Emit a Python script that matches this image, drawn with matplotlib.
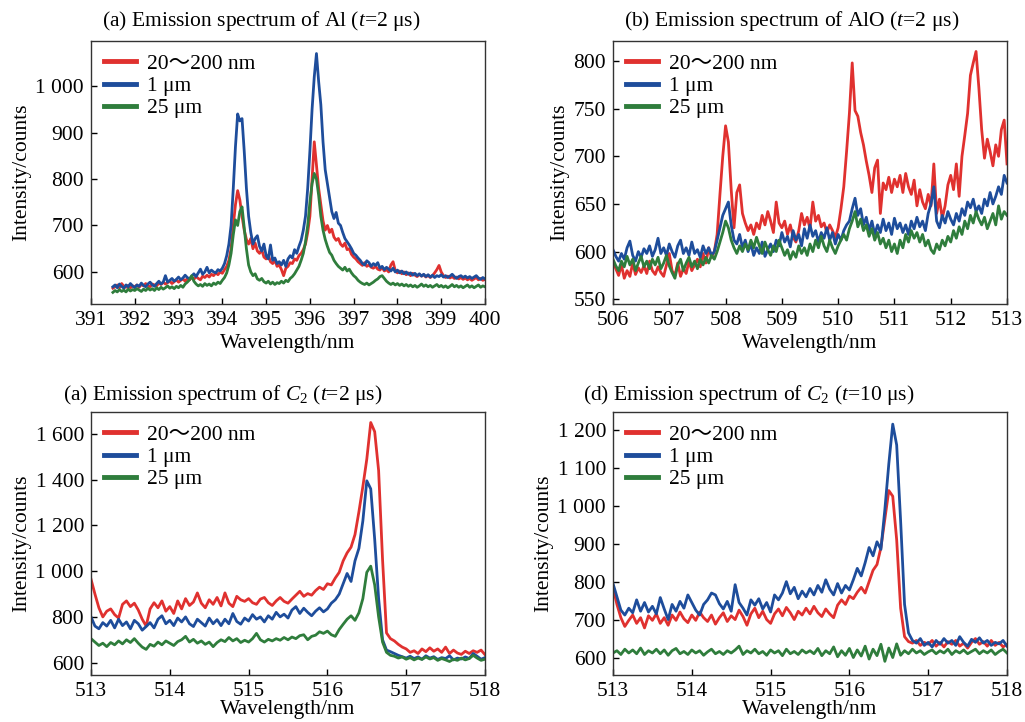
import matplotlib
matplotlib.use("Agg")
import matplotlib.pyplot as plt
import numpy as np
from matplotlib.ticker import FuncFormatter, MultipleLocator

plt.rcParams['font.family'] = ['Liberation Serif', 'Noto Sans CJK SC']
plt.rcParams['mathtext.fontset'] = 'custom'
plt.rcParams['mathtext.rm'] = 'Liberation Serif'
plt.rcParams['mathtext.it'] = 'Liberation Serif:italic'
FS = 15.5
plt.rcParams['font.size'] = FS

labels = ['20～200 nm', '1 μm', '25 μm']
colors = ['#E0312F', '#1E4D9B', '#2F7D3C']

# (a) Al, 391.5-400 nm, step 0.05
al_red = [565, 568, 572, 566, 575, 569, 567, 571, 566, 570,
          568, 572, 567, 573, 570, 575, 571, 568, 574, 572,
          570, 576, 573, 578, 574, 577, 580, 575, 579, 583,
          578, 582, 585, 580, 586, 583, 588, 584, 590, 586,
          583, 591, 588, 593, 589, 595, 592, 598, 594, 600,
          597, 605, 612, 625, 650, 700, 745, 775, 755, 720,
          690, 670, 660, 672, 650, 662, 645, 640, 648, 632,
          628, 636, 622, 618, 625, 612, 615, 605, 592, 608,
          612, 620, 618, 628, 625, 635, 640, 648, 660, 685,
          720, 800, 880, 830, 780, 745, 710, 690, 700, 685,
          692, 675, 668, 672, 660, 655, 662, 648, 650, 638,
          632, 628, 622, 618, 614, 620, 612, 615, 610, 608,
          612, 606, 604, 610, 602, 605, 600, 615, 622, 603,
          598, 602, 596, 600, 594, 598, 592, 597, 593, 590,
          595, 591, 594, 589, 593, 588, 592, 598, 605, 614,
          600, 592, 588, 591, 587, 590, 586, 589, 585, 588,
          584, 587, 583, 586, 582, 585, 588, 583, 586, 582,
          584]
al_blue = [568, 572, 566, 574, 569, 565, 572, 568, 575, 570,
           566, 572, 569, 576, 571, 568, 574, 578, 572, 569,
           575, 580, 574, 578, 592, 578, 582, 586, 580, 584,
           589, 583, 587, 593, 588, 585, 591, 596, 590, 598,
           606, 595, 600, 610, 598, 604, 600, 598, 605, 602,
           608, 618, 635, 660, 700, 780, 870, 940, 925, 930,
           860, 780, 720, 685, 660, 672, 678, 655, 645, 660,
           635, 628, 658, 625, 630, 618, 622, 615, 625, 612,
           628, 635, 630, 648, 640, 655, 668, 690, 720, 780,
           860, 950, 1020, 1070, 1010, 960, 880, 820, 790, 760,
           730, 715, 728, 705, 700, 685, 672, 665, 658, 650,
           640, 636, 630, 625, 618, 615, 624, 620, 612, 618,
           614, 620, 608, 612, 605, 610, 606, 602, 608, 600,
           604, 598, 602, 596, 600, 595, 598, 593, 597, 592,
           596, 591, 595, 590, 594, 589, 593, 588, 592, 590,
           594, 589, 592, 588, 591, 595, 590, 586, 590, 592,
           588, 591, 587, 590, 586, 589, 592, 587, 584, 588,
           585]
al_green = [556, 560, 557, 562, 558, 561, 557, 563, 559, 562,
            560, 564, 561, 558, 563, 560, 565, 561, 564, 560,
            566, 562, 567, 563, 566, 570, 565, 568, 564, 569,
            566, 571, 567, 574, 578, 583, 592, 580, 574, 570,
            573, 569, 575, 571, 574, 570, 576, 573, 578, 575,
            582, 588, 598, 615, 640, 680, 712, 700, 730, 740,
            695, 650, 615, 600, 592, 596, 585, 582, 586, 579,
            576, 580, 574, 578, 573, 577, 575, 580, 576, 582,
            579, 586, 590, 596, 604, 612, 625, 640, 665, 700,
            750, 790, 812, 800, 765, 720, 690, 670, 655, 642,
            636, 625, 618, 612, 608, 604, 610, 602, 606, 598,
            592, 588, 582, 578, 575, 573, 576, 572, 575, 578,
            582, 585, 590, 592, 586, 580, 576, 573, 576, 572,
            575, 571, 574, 570, 573, 569, 572, 568, 571, 567,
            570, 574, 569, 572, 568, 571, 567, 570, 573, 568,
            571, 567, 570, 566, 569, 573, 568, 571, 567, 570,
            566, 569, 572, 567, 570, 566, 569, 572, 567, 570,
            568]

# (b) AlO, 506-513 nm, step 0.05
alo_red = [590, 582, 575, 586, 572, 580, 574, 588, 576, 583,
           578, 585, 577, 590, 580, 576, 584, 578, 574, 586,
           598, 580, 575, 588, 574, 582, 577, 590, 580, 586,
           592, 584, 598, 588, 604, 594, 600, 618, 660, 700,
           732, 715, 665, 625, 662, 670, 640, 630, 622, 628,
           618, 630, 624, 638, 628, 642, 632, 620, 652, 630,
           625, 632, 618, 628, 615, 610, 622, 640, 628, 636,
           624, 652, 632, 638, 626, 630, 620, 628, 622, 615,
           625, 645, 668, 705, 745, 798, 748, 742, 725, 712,
           695, 680, 662, 688, 696, 640, 672, 665, 678, 662,
           676, 668, 680, 662, 682, 668, 660, 675, 648, 665,
           652, 645, 660, 648, 692, 640, 655, 635, 648, 670,
           680, 665, 692, 658, 700, 722, 745, 785, 798, 810,
           772, 728, 698, 718, 705, 690, 712, 700, 728, 738,
           692]
alo_blue = [602, 595, 590, 598, 592, 604, 611, 596, 590, 600,
            594, 603, 598, 606, 595, 602, 614, 598, 604, 596,
            608, 600, 594, 606, 612, 598, 604, 596, 610, 598,
            602, 594, 606, 598, 604, 596, 600, 612, 625, 638,
            645, 652, 628, 612, 608, 618, 604, 612, 600, 608,
            596, 604, 598, 610, 595, 602, 608, 600, 612, 606,
            620, 610, 616, 605, 622, 612, 618, 606, 624, 614,
            628, 616, 622, 610, 620, 614, 625, 612, 620, 608,
            618, 612, 622, 628, 632, 645, 656, 638, 645, 628,
            636, 622, 632, 618, 628, 620, 634, 622, 630, 618,
            635, 624, 630, 620, 628, 618, 632, 624, 636, 626,
            632, 622, 640, 650, 668, 632, 625, 638, 630, 642,
            634, 628, 640, 632, 645, 638, 652, 646, 655, 642,
            648, 640, 655, 648, 662, 650, 658, 668, 660, 680,
            672]
alo_green = [592, 585, 580, 590, 584, 595, 586, 592, 580, 588,
             595, 584, 590, 582, 592, 586, 594, 582, 588, 596,
             585, 578, 572, 586, 592, 580, 588, 594, 584, 590,
             582, 592, 586, 594, 588, 596, 592, 600, 610, 620,
             632, 625, 612, 604, 598, 606, 600, 608, 602, 612,
             604, 615, 606, 598, 610, 602, 596, 606, 600, 612,
             604, 596, 602, 592, 600, 594, 606, 598, 604, 596,
             608, 600, 612, 604, 616, 606, 600, 612, 604, 598,
             606, 612, 618, 612, 624, 632, 642, 626, 634, 622,
             628, 616, 624, 612, 620, 608, 614, 604, 612, 600,
             608, 598, 612, 604, 618, 610, 622, 614, 620, 610,
             618, 606, 612, 602, 598, 608, 602, 612, 606, 616,
             610, 622, 614, 626, 618, 632, 624, 638, 630, 642,
             634, 628, 636, 624, 632, 640, 628, 648, 634, 642,
             638]

# (c) C2 at 2 us, 513-518 nm, step 0.05
c2a_red = [965, 900, 840, 800, 825, 835, 810, 795, 855, 870,
           845, 860, 830, 790, 760, 835, 862, 840, 870, 825,
           845, 815, 870, 835, 880, 850, 865, 905, 860, 840,
           875, 855, 885, 848, 905, 860, 845, 890, 875, 868,
           880, 862, 855, 878, 885, 862, 850, 870, 885, 868,
           860, 878, 895, 912, 890, 902, 895, 915, 930, 920,
           945, 940, 970, 995, 1045, 1080, 1105, 1160, 1260, 1370,
           1490, 1650, 1610, 1440, 1050, 730, 705, 695, 680, 668,
           660, 645, 652, 640, 660, 648, 665, 650, 660, 645,
           668, 640, 655, 642, 636, 650, 640, 652, 645, 655,
           635]
c2a_blue = [800, 760, 748, 775, 760, 785, 752, 790, 762, 778,
            748, 785, 770, 742, 758, 775, 752, 790, 805, 770,
            785, 762, 795, 778, 800, 770, 758, 790, 775, 760,
            795, 770, 788, 762, 790, 770, 815, 780, 768, 795,
            782, 810, 790, 800, 778, 805, 790, 820, 800, 812,
            795, 830, 845, 815, 838, 820, 805, 825, 840, 822,
            835, 860, 875, 900, 945, 990, 955, 1045, 1100, 1220,
            1395, 1360, 1140, 880, 700, 655, 648, 640, 632, 626,
            620, 628, 618, 625, 615, 630, 620, 626, 614, 622,
            618, 630, 612, 620, 616, 625, 618, 640, 628, 615,
            622]
c2a_green = [705, 690, 675, 685, 670, 688, 678, 695, 682, 700,
             688, 705, 685, 668, 658, 680, 672, 690, 678, 695,
             685, 675, 692, 700, 715, 690, 702, 685, 695, 680,
             690, 670, 688, 700, 692, 710, 695, 705, 688, 698,
             690, 705, 728, 700, 690, 702, 695, 705, 698, 710,
             700, 712, 705, 718, 722, 700, 715, 720, 735, 728,
             738, 722, 715, 745, 768, 790, 805, 785, 818, 880,
             995, 1022, 940, 800, 690, 645, 632, 628, 620, 625,
             615, 622, 612, 620, 614, 625, 616, 622, 610, 618,
             612, 605, 615, 610, 620, 612, 618, 632, 620, 610,
             615]

# (d) C2 at 10 us, 513-518 nm, step 0.05
c2b_red = [785, 740, 705, 682, 698, 712, 690, 705, 678, 710,
           698, 715, 690, 705, 685, 712, 698, 720, 702, 692,
           712, 698, 720, 705, 695, 712, 688, 705, 718, 695,
           710, 700, 725, 708, 685, 715, 730, 705, 722, 700,
           690, 715, 728, 710, 732, 718, 700, 722, 712, 730,
           715, 735, 718, 708, 728, 715, 705, 738, 752, 740,
           762, 755, 772, 785, 770, 800, 830, 845, 890, 965,
           1040, 1025, 910, 730, 655, 642, 638, 645, 632, 640,
           635, 645, 630, 640, 628, 642, 635, 645, 630, 638,
           625, 640, 650, 635, 642, 630, 645, 632, 640, 628,
           635]
c2b_blue = [795, 760, 725, 712, 730, 718, 752, 722, 745, 720,
            735, 715, 758, 728, 700, 740, 722, 748, 730, 765,
            745, 725, 712, 740, 752, 770, 765, 742, 728, 748,
            722, 792, 745, 730, 712, 752, 738, 755, 728, 745,
            720, 765, 752, 770, 800, 768, 785, 755, 775, 760,
            782, 765, 790, 772, 805, 780, 765, 795, 770, 790,
            778, 805, 835, 815, 850, 890, 868, 905, 885, 990,
            1110, 1215, 1160, 960, 740, 665, 645, 638, 650, 632,
            640, 628, 645, 635, 650, 638, 645, 632, 655, 640,
            630, 648, 640, 652, 638, 645, 632, 640, 636, 645,
            630]
c2b_green = [612, 618, 608, 622, 612, 620, 610, 625, 608, 618,
             612, 622, 610, 620, 606, 618, 624, 610, 616, 608,
             620, 612, 618, 606, 615, 622, 610, 616, 608, 618,
             612, 620, 630, 608, 618, 612, 622, 610, 616, 606,
             620, 612, 618, 605, 622, 610, 616, 608, 620, 612,
             618, 610, 624, 605, 618, 610, 628, 602, 618, 606,
             624, 600, 620, 604, 630, 596, 622, 605, 635, 590,
             625, 600, 636, 606, 618, 610, 622, 612, 618, 608,
             615, 620, 610, 618, 612, 622, 608, 618, 612, 620,
             610, 616, 622, 610, 618, 612, 620, 608, 616, 622,
             612]

panels = [
    # title, title centre (px), x range of data, x limits, y limits, y tick step, series
    (r"(a) Emission spectrum of Al ($t$=2 μs)", (261, 21), (391.5, 400.0),
     (391, 400), (531, 1097), 100, [al_red, al_blue, al_green]),
    (r"(b) Emission spectrum of AlO ($t$=2 μs)", (792, 21), (506.0, 513.0),
     (506, 513), (545, 821), 50, [alo_red, alo_blue, alo_green]),
    (r"(a) Emission spectrum of $C_2$ ($t$=2 μs)", (223, 395), (513.0, 518.0),
     (513, 518), (546, 1696), 200, [c2a_red, c2a_blue, c2a_green]),
    (r"(d) Emission spectrum of $C_2$ ($t$=10 μs)", (749, 395), (513.0, 518.0),
     (513, 518), (554, 1247), 100, [c2b_red, c2b_blue, c2b_green]),
]

W, H = 1025, 722
boxes = [(91, 41, 485, 304), (613, 41, 1007, 304),
         (91, 412, 485, 675), (613, 412, 1007, 675)]

def thousands(v, pos):
    return f"{int(round(v)):,}".replace(",", " ")

fig = plt.figure(figsize=(W / 100, H / 100), dpi=100)

for i, ((title, tpos, xr, xlim, ylim, ystep, series), box) in enumerate(zip(panels, boxes)):
    l, t, r, b = box
    ax = fig.add_axes([l / W, 1 - b / H, (r - l) / W, (b - t) / H])
    for ys, c, lab in zip(series, colors, labels):
        xs = np.linspace(xr[0], xr[1], len(ys))
        ax.plot(xs, ys, color=c, lw=2.0, label=lab)
    ax.set_xlim(*xlim)
    ax.set_ylim(*ylim)
    ax.xaxis.set_major_locator(MultipleLocator(1))
    ax.yaxis.set_major_locator(MultipleLocator(ystep))
    ax.yaxis.set_major_formatter(FuncFormatter(thousands))
    ax.tick_params(direction='in', length=4, width=1, labelsize=FS, pad=5)
    for s in ax.spines.values():
        s.set_linewidth(1.0)
        s.set_color('#333333')
    # bottom row label kept tight so it stays inside the figure
    ax.set_xlabel('Wavelength/nm', fontsize=FS, labelpad=3 if i < 2 else -1)
    ax.set_ylabel('Intensity/counts', fontsize=FS, labelpad=3)
    leg = ax.legend(loc='upper left', frameon=False, handlelength=1.5,
                    handletextpad=0.5, labelspacing=0.1, borderaxespad=0.2,
                    fontsize=FS)
    for ln in leg.get_lines():
        ln.set_linewidth(3.5)
    fig.text(tpos[0] / W, 1 - tpos[1] / H, title, ha='center', va='center',
             fontsize=FS)

fig.savefig('out.png', dpi=100)
